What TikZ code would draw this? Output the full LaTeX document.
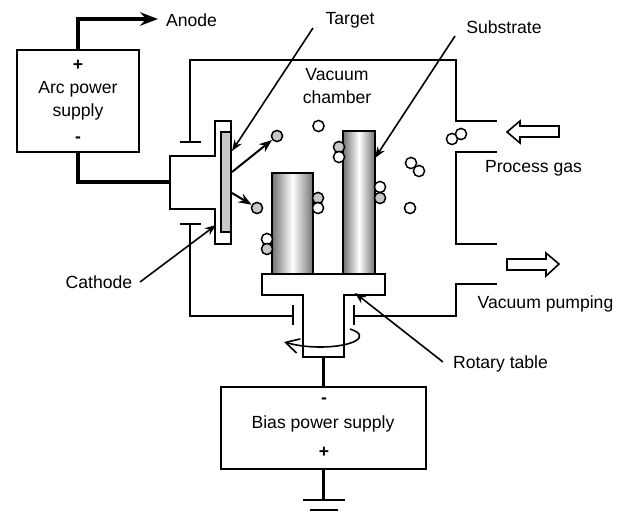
\documentclass[tikz,border=0pt]{standalone}
\usepackage{fontspec}
\setmainfont{Liberation Sans}
\usetikzlibrary{positioning,arrows.meta,calc}
\begin{document}
\begin{tikzpicture}[x=0.75pt,y=-0.75pt,>=Stealth,
thin wire/.style = {line width=1.2pt},
thick wire/.style = {line width=2.3pt},
point/.style = {draw, circle, fill = white, line width=1.1pt, inner sep = 0pt, minimum size = 8.4pt},
ion/.style = {point, fill = black!22},
supply/.style = {draw, line width=1.3pt, inner sep = 0pt},
caption/.style = {inner sep = 0pt, align = center, font = \fontsize{13.2}{17}\selectfont},
cylinder/.style = {draw = black, line width=1.1pt, left color = black!55, right color = black!55, middle color = white},
gas arrow/.style = {draw, line width=1.2pt, fill = white},
]
\useasboundingbox (0,0) rectangle (625,518);
% power supplies
\node (arc) at (78,101)[supply,minimum width=91.5pt,minimum height=76.5pt] {};
\node (plusA) at (78,65)[caption] {\textbf{+}};
\node (textA) at (78,101)[caption] {Arc power\\supply};
\node (minusA) at (78,140)[caption] {\textbf{-}};
\node (bias) at (323.5,428)[supply,minimum width=153.75pt,minimum height=61.5pt] {};
\node (minusB) at (324,401)[caption] {\textbf{-}};
\node (textB) at (323,424)[caption] {Bias power supply};
\node (plusB) at (324,452)[caption] {\textbf{+}};
% labels
\node (anode) at (191.5,20)[caption] {Anode};
\node (target) at (350,20)[caption] {Target};
\node (substrate) at (504,27)[caption] {Substrate};
\node (chamber) at (337,86)[caption] {Vacuum\\chamber};
\node (gas) at (533.5,168)[caption] {Process gas};
\node (pumping) at (545.5,304)[caption] {Vacuum pumping};
\node (cathode) at (99,282)[caption] {Cathode};
\node (rotary) at (500.5,364)[caption] {Rotary table};
% chamber wall
\coordinate (c1) at (190,142);
\coordinate (c2) at (190,60);
\coordinate (c3) at (456,60);
\coordinate (c4) at (456,121);
\coordinate (c5) at (497,121);
\draw[thin wire] (c1)--(c2)--(c3)--(c4)--(c5);
\draw[thin wire] (180,142)--(201,142);
\draw[thin wire] (180,224)--(201,224);
\draw[thin wire] (190,224)--(190,316)--(293,316);
\draw[thin wire] (293,305)--(293,325);
\draw[thin wire] (354,305)--(354,325);
\draw[thin wire] (354,316)--(456,316)--(456,284)--(497,284);
\draw[thin wire] (497,152)--(456,152)--(456,244)--(497,244);
% cathode and target
\draw[thin wire] (215,121)--(231,121)--(231,244)--(215,244)--(215,209)--(170,209)--(170,156)--(215,156)--cycle;
\draw[thin wire,fill=black!22] (221,132) rectangle (231,232);
% substrates and table
\draw[cylinder] (272,173) rectangle (313,274);
\draw[cylinder] (343,131) rectangle (375,274);
\draw[thin wire,fill=white] (262,274)--(385,274)--(385,295)--(344,295)--(344,357)--(303,357)--(303,295)--(262,295)--cycle;
\coordinate (shaft) at (323.5,357);
\draw[thin wire,->,>={Straight Barb[length=10pt,width=11pt]}] (350,329) .. controls (372,336) and (354,347) .. (320,347) .. controls (305,347) and (295,345) .. (284,342);
% wiring
\coordinate (a1) at (78,19);
\coordinate (a2) at (158,19);
\coordinate (a3) at (78,182);
\coordinate (a4) at (170,182);
\draw[thick wire,->] (arc.north)--(a1)--(a2);
\draw[thick wire] (arc.south)--(a3)--(a4);
\draw[thick wire] (shaft)--(bias.north);
\coordinate (g1) at (323.5,500);
\draw[thick wire] (bias.south)--(g1);
\draw[thin wire] (303,500)--(345,500);
\draw[thin wire] (310,510)--(338,510);
% leaders
\draw[thin wire,->] (313,28)--(232,151);
\draw[thin wire,->] (455,36)--(375,158);
\draw[thin wire,->] (140,282)--(216,225);
\draw[thin wire,->] (443,362)--(355,293);
% gas arrows
\draw[gas arrow] (507,132)--(520,121)--(520,126)--(559,126)--(559,137)--(520,137)--(520,143)--cycle;
\draw[gas arrow] (559,264)--(546,253)--(546,259)--(507,259)--(507,270)--(546,270)--(546,276)--cycle;
% particles
\node (i1) at (277,136)[ion] {};
\node (i2) at (257,208)[ion] {};
\draw[line width=1.5pt,->] (232,172)--(i1);
\draw[line width=1.5pt,->] (232,193)--(i2);
\node (p1) at (318.5,126)[point] {};
\node (p2) at (267,239)[point] {};
\node (i3) at (267,249)[ion] {};
\node (i4) at (339,147)[ion] {};
\node (p3) at (339,157)[point] {};
\node (p4) at (380,187)[point] {};
\node (i5) at (380,198)[ion] {};
\node (i6) at (318,198)[ion] {};
\node (p5) at (318,208)[point] {};
\node (p6) at (411,163)[point] {};
\node (p7) at (419,171)[point] {};
\node (p8) at (410,208)[point] {};
\node (p9) at (452,139)[point] {};
\node (p10) at (461,134)[point] {};
\end{tikzpicture}
\end{document}
